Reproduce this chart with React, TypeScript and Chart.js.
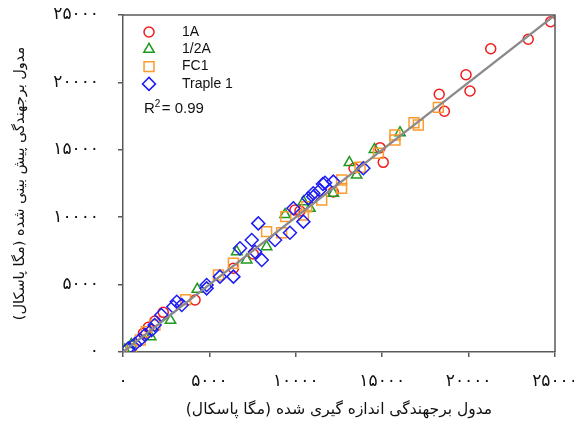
import React, { useEffect, useRef } from "react";
import { Chart, registerables } from "chart.js";

Chart.register(...registerables);

const seriesNames = ["1A", "1/2A", "FC1", "Traple 1"];

const x1A = [24750, 23450, 21280, 19850, 20080, 18300, 18600, 14870, 15060, 13370, 12170, 10240, 9950, 7540, 6390, 4170, 2330, 1850, 1470, 1180];
const y1A = [24500, 23200, 22500, 20570, 19360, 19120, 17860, 15160, 14070, 13630, 11870, 10460, 10530, 7270, 6210, 3860, 2940, 2300, 1830, 1390];

const xHalfA = [16030, 14550, 13100, 13520, 12170, 10820, 9380, 10440, 8310, 6580, 7160, 4300, 2750, 1600, 480, 100];
const yHalfA = [16270, 15030, 14050, 13130, 11770, 10660, 10200, 11150, 7810, 7440, 6830, 4650, 2350, 1140, 560, 150];

const xFC1 = [18250, 16840, 17090, 15740, 15740, 14780, 13720, 12650, 12650, 11500, 10630, 10440, 9420, 8310, 9180, 6390, 5520, 3620, 1850, 1350, 1000, 490];
const yFC1 = [18150, 17010, 16840, 16100, 15730, 14740, 13700, 12760, 12140, 11280, 10780, 10160, 10040, 8930, 8850, 6580, 5710, 3880, 2000, 1500, 890, 270];

const xTraple = [13910, 12170, 11690, 11400, 11010, 9860, 10440, 11570, 11010, 10725, 7830, 9660, 7450, 8800, 6770, 7640, 8030, 6390, 5610, 4840, 4840, 3110, 3400, 2910, 2220, 1830, 1660, 1270, 980, 690, 310];
const yTraple = [13630, 12640, 12560, 12020, 11520, 10660, 9670, 12460, 11770, 11400, 9540, 8850, 8310, 8310, 7690, 7440, 6830, 5590, 5590, 4970, 4720, 3730, 3490, 3360, 2740, 2000, 1630, 1260, 890, 590, 270];

const fitX = [0, 25000];
const fitY = [0, 25000];

const tickValues = [0, 5000, 10000, 15000, 20000, 25000];

const xTitle = "مدول برجهندگی اندازه گیری شده (مگا پاسکال)";
const yTitle = "مدول برجهندگی پیش بینی شده (مگا پاسکال)";
const r2Label = "0.99";

const colors = ["#f01c1c", "#1f9a1f", "#ff9a2e", "#1c1cf5"];
const styles = ["circle", "triangle", "rect", "rectRot"];
const radii = [5, 6, 7, 6.5];

const toPersian = (v: number | string) =>
  String(v).replace(/[0-9]/g, (d) => "۰۱۲۳۴۵۶۷۸۹"[Number(d)]);

const zip = (xs: number[], ys: number[]) => xs.map((x, i) => ({ x, y: ys[i] }));

function drawMarker(ctx: CanvasRenderingContext2D, style: string, r: number, x: number, y: number) {
  ctx.beginPath();
  if (style === "circle") {
    ctx.arc(x, y, r, 0, Math.PI * 2);
  } else if (style === "triangle") {
    ctx.moveTo(x - Math.sin(Math.PI / 3) * r, y + r / 2);
    ctx.lineTo(x, y - r);
    ctx.lineTo(x + Math.sin(Math.PI / 3) * r, y + r / 2);
    ctx.closePath();
  } else if (style === "rect") {
    const s = Math.SQRT1_2 * r;
    ctx.rect(x - s, y - s, 2 * s, 2 * s);
  } else {
    ctx.moveTo(x, y - r);
    ctx.lineTo(x + r, y);
    ctx.lineTo(x, y + r);
    ctx.lineTo(x - r, y);
    ctx.closePath();
  }
  ctx.stroke();
}

const framePlugin = {
  id: "frame",
  afterDatasetsDraw(chart: any) {
    const { ctx, chartArea } = chart;
    ctx.save();
    ctx.strokeStyle = "#5a5a5a";
    ctx.lineWidth = 1.5;
    ctx.beginPath();
    ctx.moveTo(chartArea.left, chartArea.top);
    ctx.lineTo(chartArea.right, chartArea.top);
    ctx.lineTo(chartArea.right, chartArea.bottom);
    ctx.stroke();
    ctx.restore();
  },
};

const legendPlugin = {
  id: "innerLegend",
  afterDraw(chart: any) {
    const { ctx, chartArea } = chart;
    const left = chartArea.left;
    const top = chartArea.top;
    ctx.save();
    seriesNames.forEach((name, i) => {
      const y = top + 17 + i * 17.3;
      ctx.strokeStyle = colors[i];
      ctx.lineWidth = 1.5;
      drawMarker(ctx, styles[i], radii[i], left + 26, y);
      ctx.fillStyle = "#111";
      ctx.font = "14px 'Liberation Sans', Arial, sans-serif";
      ctx.textBaseline = "middle";
      ctx.textAlign = "left";
      ctx.fillText(name, left + 59, y);
    });
    const ry = top + 94;
    ctx.fillStyle = "#111";
    ctx.font = "15px 'Liberation Sans', Arial, sans-serif";
    ctx.textBaseline = "middle";
    ctx.textAlign = "left";
    ctx.fillText("R", left + 21, ry);
    const rw = ctx.measureText("R").width;
    ctx.font = "10px 'Liberation Sans', Arial, sans-serif";
    ctx.fillText("2", left + 21 + rw, ry - 5);
    ctx.font = "15px 'Liberation Sans', Arial, sans-serif";
    ctx.fillText("= " + r2Label, left + 21 + rw + 7, ry);
    ctx.restore();
  },
};

export default function App() {
  const ref = useRef<HTMLCanvasElement | null>(null);

  useEffect(() => {
    document.body.style.margin = "0";
    const canvas = ref.current;
    if (!canvas) return;

    const scatterData = [
      zip(x1A, y1A),
      zip(xHalfA, yHalfA),
      zip(xFC1, yFC1),
      zip(xTraple, yTraple),
    ];

    const datasets: any[] = [
      {
        type: "line",
        label: "fit",
        data: zip(fitX, fitY),
        borderColor: "#8a8a8a",
        borderWidth: 2.2,
        pointRadius: 0,
        fill: false,
        order: 0,
      },
      ...seriesNames.map((name, i) => ({
        type: "scatter",
        label: name,
        data: scatterData[i],
        pointStyle: styles[i],
        pointRadius: radii[i],
        borderColor: colors[i],
        backgroundColor: "rgba(0,0,0,0)",
        borderWidth: 1.5,
        order: 5 - i,
      })),
    ];

    const tickFont = { family: "'DejaVu Sans', serif", size: 17 };
    const xTitleFont = { family: "'DejaVu Sans', serif", size: 15.5 };
    const yTitleFont = { family: "'DejaVu Sans', serif", size: 14.5 };

    const chart = new Chart(canvas, {
      type: "scatter",
      data: { datasets },
      plugins: [framePlugin, legendPlugin],
      options: {
        animation: false,
        responsive: false,
        layout: { padding: { top: 15, right: 19, left: 0, bottom: 0 } },
        plugins: { legend: { display: false }, tooltip: { enabled: false } },
        scales: {
          x: {
            type: "linear",
            min: 0,
            max: 25000,
            afterBuildTicks: (s: any) => {
              s.ticks = tickValues.map((v) => ({ value: v }));
            },
            afterFit: (s: any) => {
              s.height = 70;
              s.paddingLeft = 0;
              s.paddingRight = 0;
            },
            ticks: {
              callback: (v: any) => toPersian(v),
              font: tickFont,
              color: "#111",
              padding: 14,
              maxRotation: 0,
              autoSkip: false,
            },
            grid: { drawOnChartArea: false, drawTicks: true, tickLength: 5, color: "#5a5a5a", lineWidth: 1.5 },
            border: { color: "#5a5a5a", width: 1.5 },
            title: { display: true, text: xTitle, font: xTitleFont, color: "#111", padding: { top: 0, bottom: 3 } },
          },
          y: {
            type: "linear",
            min: 0,
            max: 25000,
            afterBuildTicks: (s: any) => {
              s.ticks = tickValues.map((v) => ({ value: v }));
            },
            afterFit: (s: any) => {
              s.width = 123;
              s.paddingTop = 0;
              s.paddingBottom = 0;
            },
            ticks: {
              callback: (v: any) => toPersian(v),
              font: tickFont,
              color: "#111",
              padding: 19,
              autoSkip: false,
            },
            grid: { drawOnChartArea: false, drawTicks: true, tickLength: 5, color: "#5a5a5a", lineWidth: 1.5 },
            border: { color: "#5a5a5a", width: 1.5 },
            title: { display: true, text: yTitle, font: yTitleFont, color: "#111", padding: { top: 12, bottom: 0 } },
          },
        },
      } as any,
    });

    return () => chart.destroy();
  }, []);

  return (
    <div style={{ width: 574, height: 422, background: "#fff" }}>
      <canvas ref={ref} width={574} height={422} style={{ display: "block", width: 574, height: 422 }} />
    </div>
  );
}
